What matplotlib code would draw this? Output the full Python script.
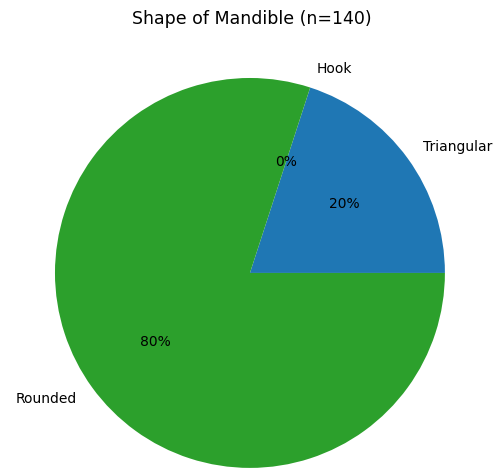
import matplotlib.pyplot as plt

labels = ['Triangular', 'Hook', 'Rounded']
counts = [28, 0, 112]
colors = ['#1f77b4', '#ff7f0e', '#2ca02c']

fig = plt.figure(figsize=(5.03, 4.71), dpi=100)
ax = fig.add_axes([0.0124, -0.097, 0.969, 1.035])
ax.pie(counts, labels=labels, colors=colors, autopct='%1.0f%%',
       textprops={'fontsize': 10})
ax.set_aspect('equal')
fig.suptitle('Shape of Mandible (n=140)', fontsize=12.5, y=0.978)

plt.savefig('out.png', dpi=100)
